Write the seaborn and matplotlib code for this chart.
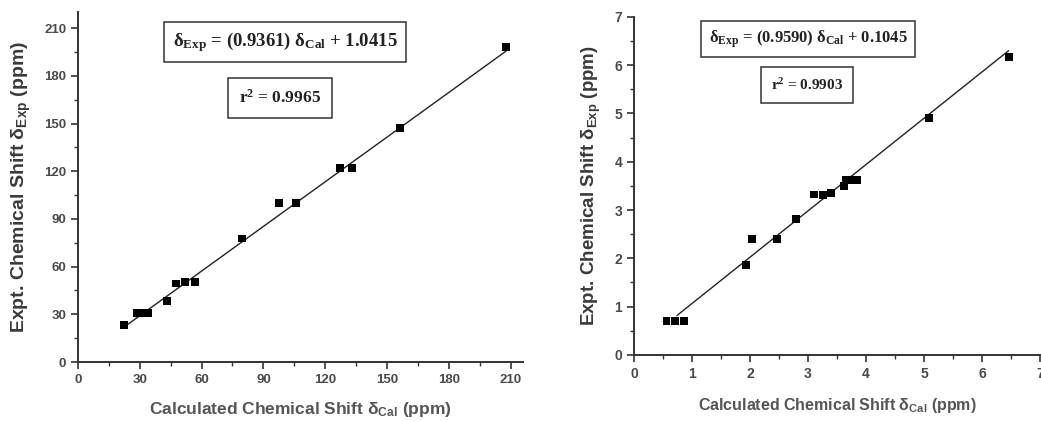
import numpy as np
import pandas as pd
import matplotlib
matplotlib.use("Agg")
import matplotlib.pyplot as plt
import seaborn as sns
from matplotlib.ticker import MultipleLocator

sns.set_theme(style="ticks")
plt.rcParams['font.family'] = ['Liberation Sans', 'DejaVu Sans']
plt.rcParams['mathtext.fontset'] = 'custom'
plt.rcParams['mathtext.rm'] = 'Liberation Serif:bold'
plt.rcParams['mathtext.bf'] = 'Liberation Serif:bold'
plt.rcParams['mathtext.it'] = 'Liberation Serif:bold:italic'
plt.rcParams['mathtext.sf'] = 'Liberation Sans:bold'

# --- data: 13C (left) ---
c_cal = [22.3, 28.6, 31.2, 34.1, 43.4, 47.7, 51.8, 57.0, 79.6, 97.6, 106.0,
         127.0, 133.2, 156.3, 207.8]
c_exp = [23.2, 30.6, 30.6, 30.6, 38.3, 49.4, 50.5, 50.5, 77.7, 100.0, 100.0,
         122.0, 122.0, 147.2, 197.9]
c_fit = (0.9361, 1.0415)
c_r2 = 0.9965

# --- data: 1H (right) ---
h_cal = [0.56, 0.71, 0.86, 1.93, 2.03, 2.47, 2.79, 3.10, 3.26, 3.39, 3.62,
         3.66, 3.75, 3.85, 5.09, 6.46]
h_exp = [0.71, 0.71, 0.71, 1.86, 2.40, 2.40, 2.81, 3.32, 3.31, 3.35, 3.50,
         3.62, 3.62, 3.62, 4.90, 6.16]
h_fit = (0.9590, 0.1045)
h_r2 = 0.9903

TXT = '#3a3a3a'
fig = plt.figure(figsize=(10.41, 4.21), dpi=100)
ax1 = fig.add_axes([0.0749, 0.140, 0.4275, 0.831])
ax2 = fig.add_axes([0.609, 0.157, 0.390, 0.803])


def panel(ax, xs, ys, fit, x_start, xlim, ylim, major, minor,
          lab_x, lab_y, fs_x, fs_y, fs_tick, pad_x):
    df = pd.DataFrame({'cal': xs, 'exp': ys})
    sns.scatterplot(data=df, x='cal', y='exp', marker='s', s=32,
                    color='black', edgecolor='none', ax=ax, zorder=3)
    xl = np.array([x_start, max(xs)])
    ax.plot(xl, fit[0] * xl + fit[1], color='#222222', lw=1.0, zorder=2)
    ax.set_xlim(*xlim)
    ax.set_ylim(*ylim)
    ax.xaxis.set_major_locator(MultipleLocator(major))
    ax.xaxis.set_minor_locator(MultipleLocator(minor))
    ax.yaxis.set_major_locator(MultipleLocator(major))
    ax.yaxis.set_minor_locator(MultipleLocator(minor))
    for s in ['top', 'right']:
        ax.spines[s].set_visible(False)
    for s in ['left', 'bottom']:
        ax.spines[s].set_color('#333333')
        ax.spines[s].set_linewidth(1.4)
    ax.tick_params(which='major', length=5, width=1.2, color='#333333',
                   labelsize=fs_tick, labelcolor='#4a4a4a')
    ax.tick_params(which='minor', length=3, width=1.0, color='#333333')
    for t in ax.get_xticklabels() + ax.get_yticklabels():
        t.set_fontweight('bold')
    ax.set_xlabel(lab_x, fontsize=fs_x, fontweight='bold', color='#555555',
                  labelpad=pad_x)
    ax.set_ylabel(lab_y, fontsize=fs_y, fontweight='bold', color=TXT,
                  labelpad=8)


panel(ax1, c_cal, c_exp, c_fit, 22.3, (0, 216), (0, 220), 30, 15,
      r'Calculated Chemical Shift δ$\mathsf{_{Cal}}$ (ppm)',
      r'Expt. Chemical Shift δ$\mathsf{_{Exp}}$ (ppm)', 12.5, 14, 9.5, 10)
panel(ax2, h_cal, h_exp, h_fit, 0.74, (0, 7), (0, 7), 1, 0.5,
      r'Calculated Chemical Shift δ$\mathsf{_{Cal}}$ (ppm)',
      r'Expt. Chemical Shift δ$\mathsf{_{Exp}}$ (ppm)', 11.5, 13.5, 10, 11)

box = dict(boxstyle='square,pad=0.45', facecolor='white', edgecolor='#333333',
           linewidth=1.1)
serif = ['Liberation Serif', 'DejaVu Serif']

ax1.text(285 / 1041, 1 - 42 / 421, r'$\mathrm{\delta_{Exp}}$ = (%.4f) $\mathrm{\delta_{Cal}}$ + %.4f' % c_fit,
         transform=fig.transFigure, ha='center', va='center', fontsize=13.5,
         fontweight='bold', family=serif, color='#222222', bbox=box)
ax1.text(280 / 1041, 1 - 98 / 421, r'r$\mathrm{^2}$ = %.4f' % c_r2,
         transform=fig.transFigure, ha='center', va='center', fontsize=12.5,
         fontweight='bold', family=serif, color='#222222',
         bbox=dict(box, boxstyle='square,pad=0.65'))
ax2.text(808 / 1041, 1 - 39 / 421, r'$\mathrm{\delta_{Exp}}$ = (%.4f) $\mathrm{\delta_{Cal}}$ + %.4f' % h_fit,
         transform=fig.transFigure, ha='center', va='center', fontsize=12,
         fontweight='bold', family=serif, color='#222222', bbox=box)
ax2.text(807 / 1041, 1 - 85 / 421, r'r$\mathrm{^2}$ = %.4f' % h_r2,
         transform=fig.transFigure, ha='center', va='center', fontsize=11,
         fontweight='bold', family=serif, color='#222222',
         bbox=dict(box, boxstyle='square,pad=0.65'))

fig.savefig('out.png', dpi=100)
